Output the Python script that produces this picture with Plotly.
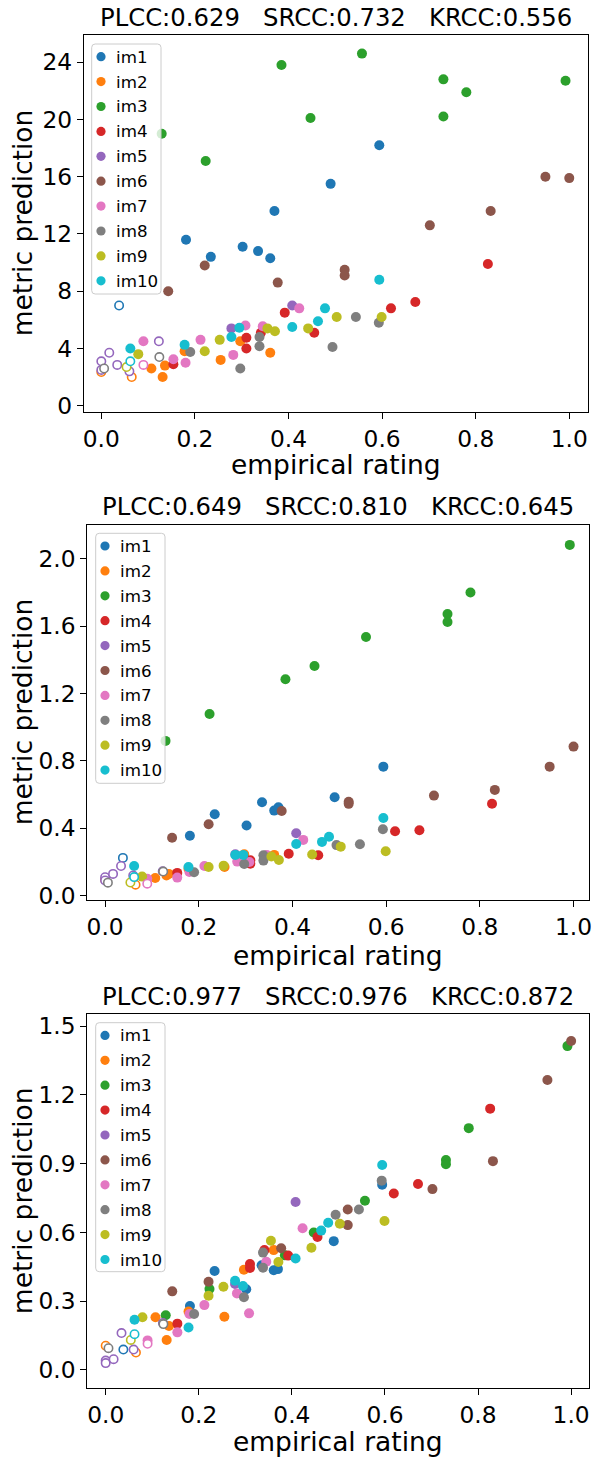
import plotly.graph_objects as go

# ---------------- data ----------------
series_names = ["im1", "im2", "im3", "im4", "im5", "im6", "im7", "im8", "im9", "im10"]

# empirical rating (shared by all three panels)
x_im1 = [0.038, 0.181, 0.234, 0.302, 0.335, 0.361, 0.370, 0.490, 0.594]
x_im2 = [0.0, 0.065, 0.107, 0.131, 0.136, 0.178, 0.255, 0.297, 0.361]
x_im3 = [0.129, 0.223, 0.385, 0.447, 0.557, 0.731, 0.731, 0.780, 0.992]
x_im4 = [0.154, 0.310, 0.310, 0.341, 0.392, 0.455, 0.619, 0.671, 0.826]
x_im5 = [0.0, 0.0, 0.017, 0.034, 0.060, 0.123, 0.278, 0.408]
x_im6 = [0.143, 0.221, 0.377, 0.520, 0.520, 0.702, 0.832, 0.949, 1.0]
x_im7 = [0.090, 0.090, 0.154, 0.180, 0.212, 0.282, 0.308, 0.345, 0.423]
x_im8 = [0.006, 0.124, 0.190, 0.297, 0.338, 0.338, 0.494, 0.544, 0.593]
x_im9 = [0.054, 0.079, 0.221, 0.253, 0.355, 0.371, 0.442, 0.503, 0.599]
x_im10 = [0.062, 0.062, 0.178, 0.278, 0.295, 0.408, 0.463, 0.478, 0.594]

# indices of points drawn as open circles
hollow_im1 = [0]
hollow_im2 = [0, 1]
hollow_im3 = []
hollow_im4 = []
hollow_im5 = [0, 1, 2, 3, 4, 5]
hollow_im6 = []
hollow_im7 = [0]
hollow_im8 = [0, 1]
hollow_im9 = [0]
hollow_im10 = [0]

# panel 1 metric prediction
p1_im1 = [7.0, 11.6, 10.4, 11.1, 10.8, 10.3, 13.6, 15.5, 18.2]
p1_im2 = [2.35, 2.0, 2.6, 2.0, 2.8, 3.8, 3.2, 4.5, 3.7]
p1_im3 = [19.0, 17.1, 23.8, 20.1, 24.6, 22.8, 20.2, 21.9, 22.7]
p1_im4 = [2.9, 4.75, 4.0, 5.1, 6.5, 5.1, 6.8, 7.25, 9.9]
p1_im5 = [3.1, 2.5, 3.7, 2.85, 2.4, 4.5, 5.4, 7.0]
p1_im6 = [8.0, 9.8, 8.6, 9.5, 9.1, 12.6, 13.6, 16.0, 15.9]
p1_im7 = [2.85, 4.5, 3.25, 3.0, 4.6, 3.55, 5.6, 5.55, 6.8]
p1_im8 = [2.6, 3.4, 3.75, 2.6, 4.8, 4.15, 4.1, 6.2, 5.8]
p1_im9 = [2.7, 3.6, 3.8, 4.6, 5.4, 5.2, 5.4, 6.2, 6.2]
p1_im10 = [3.1, 4.0, 4.25, 4.8, 5.45, 5.5, 5.9, 6.8, 8.8]

# panel 2 metric prediction
p2_im1 = [0.224, 0.356, 0.483, 0.416, 0.555, 0.505, 0.525, 0.584, 0.766]
p2_im2 = [0.095, 0.065, 0.105, 0.12, 0.129, 0.16, 0.17, 0.245, 0.242]
p2_im3 = [0.919, 1.079, 1.285, 1.364, 1.536, 1.673, 1.625, 1.80, 2.083]
p2_im4 = [0.135, 0.21, 0.19, 0.235, 0.249, 0.24, 0.382, 0.388, 0.546]
p2_im5 = [0.109, 0.09, 0.129, 0.176, 0.12, 0.145, 0.245, 0.37]
p2_im6 = [0.344, 0.424, 0.503, 0.558, 0.545, 0.594, 0.628, 0.766, 0.885]
p2_im7 = [0.071, 0.10, 0.107, 0.14, 0.176, 0.202, 0.2, 0.242, 0.331]
p2_im8 = [0.077, 0.143, 0.139, 0.188, 0.24, 0.208, 0.30, 0.305, 0.394]
p2_im9 = [0.078, 0.113, 0.17, 0.178, 0.232, 0.212, 0.244, 0.291, 0.264]
p2_im10 = [0.11, 0.176, 0.17, 0.242, 0.242, 0.307, 0.319, 0.35, 0.461]

# panel 3 metric prediction
p3_im1 = [0.089, 0.279, 0.432, 0.352, 0.457, 0.435, 0.440, 0.562, 0.808]
p3_im2 = [0.106, 0.076, 0.23, 0.131, 0.192, 0.255, 0.232, 0.437, 0.523]
p3_im3 = [0.239, 0.353, 0.50, 0.600, 0.738, 0.916, 0.898, 1.055, 1.413]
p3_im4 = [0.202, 0.462, 0.445, 0.523, 0.499, 0.58, 0.770, 0.811, 1.14]
p3_im5 = [0.041, 0.03, 0.047, 0.161, 0.089, 0.205, 0.375, 0.733]
p3_im6 = [0.343, 0.385, 0.531, 0.70, 0.632, 0.789, 0.911, 1.265, 1.435]
p3_im7 = [0.114, 0.129, 0.164, 0.244, 0.283, 0.334, 0.247, 0.472, 0.618]
p3_im8 = [0.095, 0.20, 0.244, 0.317, 0.512, 0.446, 0.677, 0.70, 0.826]
p3_im9 = [0.131, 0.23, 0.324, 0.363, 0.564, 0.471, 0.533, 0.638, 0.65]
p3_im10 = [0.156, 0.219, 0.185, 0.389, 0.366, 0.486, 0.608, 0.642, 0.894]

panel_titles = ["PLCC:0.629   SRCC:0.732   KRCC:0.556",
                "PLCC:0.649   SRCC:0.810   KRCC:0.645",
                "PLCC:0.977   SRCC:0.976   KRCC:0.872"]
x_label = "empirical rating"
y_label = "metric prediction"
x_ticks = [0.0, 0.2, 0.4, 0.6, 0.8, 1.0]
y_ticks_1 = [0, 4, 8, 12, 16, 20, 24]
y_ticks_2 = [0.0, 0.4, 0.8, 1.2, 1.6, 2.0]
y_ticks_3 = [0.0, 0.3, 0.6, 0.9, 1.2, 1.5]

# ---------------- assembly ----------------
X = [x_im1, x_im2, x_im3, x_im4, x_im5, x_im6, x_im7, x_im8, x_im9, x_im10]
HOLLOW = [hollow_im1, hollow_im2, hollow_im3, hollow_im4, hollow_im5,
          hollow_im6, hollow_im7, hollow_im8, hollow_im9, hollow_im10]
P = [
    [p1_im1, p1_im2, p1_im3, p1_im4, p1_im5, p1_im6, p1_im7, p1_im8, p1_im9, p1_im10],
    [p2_im1, p2_im2, p2_im3, p2_im4, p2_im5, p2_im6, p2_im7, p2_im8, p2_im9, p2_im10],
    [p3_im1, p3_im2, p3_im3, p3_im4, p3_im5, p3_im6, p3_im7, p3_im8, p3_im9, p3_im10],
]
Y_TICKS = [y_ticks_1, y_ticks_2, y_ticks_3]
Y_FMT = ["{:d}", "{:.1f}", "{:.1f}"]

COLORS = ['#1f77b4', '#ff7f0e', '#2ca02c', '#d62728', '#9467bd',
          '#8c564b', '#e377c2', '#7f7f7f', '#bcbd22', '#17becf']
FONT = "DejaVu Sans"
W, H = 592, 1459

# panel geometry in pixels: (left, right, top, bottom)
BOXES = [(84, 588, 35, 411.7), (87.3, 589, 524.7, 900), (87.3, 589.3, 1014, 1388.3)]
X_RANGES = [[-0.037, 1.04], [-0.038, 1.033], [-0.0395, 1.039]]
Y_RANGES = [[-0.42, 25.9], [-0.026, 2.203], [-0.08, 1.553]]
XLABEL_GAP = [53, 55, 53]
LEGEND_BOX = [(91.7, 44, 161, 294), (95.7, 533.3, 165, 783.3), (95.7, 1022.7, 165, 1271.7)]
LEG_STEP = 24.9


def px(x):
    return x / W


def py(y):
    return 1 - y / H


fig = go.Figure()
for p in range(3):
    ax = "" if p == 0 else str(p + 1)
    for s in range(10):
        xs = [v for i, v in enumerate(X[s]) if i not in HOLLOW[s]]
        ys = [v for i, v in enumerate(P[p][s]) if i not in HOLLOW[s]]
        fig.add_trace(go.Scatter(
            x=xs, y=ys, mode="markers", name=series_names[s], showlegend=False,
            xaxis="x" + ax, yaxis="y" + ax,
            marker=dict(size=10, color=COLORS[s], line=dict(width=0)),
        ))
    for s in range(10):
        if not HOLLOW[s]:
            continue
        xs = [X[s][i] for i in HOLLOW[s]]
        ys = [P[p][s][i] for i in HOLLOW[s]]
        fig.add_trace(go.Scatter(
            x=xs, y=ys, mode="markers", name=series_names[s], showlegend=False,
            xaxis="x" + ax, yaxis="y" + ax,
            marker=dict(size=8.4, color="white", line=dict(width=1.6, color=COLORS[s])),
        ))

layout = dict(
    width=W, height=H, autosize=False,
    margin=dict(l=0, r=0, t=0, b=0),
    paper_bgcolor="white", plot_bgcolor="white",
    font=dict(family=FONT, color="black"),
    showlegend=False,
    annotations=[], shapes=[],
)
for p in range(3):
    l, r, t, b = BOXES[p]
    ax = "" if p == 0 else str(p + 1)
    axis_common = dict(
        showline=True, mirror=True, linecolor="black", linewidth=1.3,
        ticks="outside", ticklen=6, tickwidth=1.3, tickcolor="black",
        showgrid=False, zeroline=False, automargin=False,
        ticklabeloverflow="allow",
        tickfont=dict(family=FONT, size=23.3, color="black"),
    )
    layout["xaxis" + ax] = dict(
        axis_common, domain=[px(l), px(r)], range=X_RANGES[p],
        anchor="y" + ax, tickvals=x_ticks,
        ticktext=["{:.1f}".format(v) for v in x_ticks],
    )
    layout["yaxis" + ax] = dict(
        axis_common, domain=[py(b), py(t)], range=Y_RANGES[p],
        anchor="x" + ax, tickvals=Y_TICKS[p],
        ticktext=[Y_FMT[p].format(v) for v in Y_TICKS[p]],
    )
    cx = px((l + r) / 2)
    layout["annotations"].append(dict(
        text=panel_titles[p], x=cx, y=py(t - 18), xref="paper", yref="paper",
        xanchor="center", yanchor="middle", showarrow=False,
        font=dict(family=FONT, size=24.3, color="black")))
    layout["annotations"].append(dict(
        text=x_label, x=cx, y=py(b + XLABEL_GAP[p]), xref="paper", yref="paper",
        xanchor="center", yanchor="middle", showarrow=False,
        font=dict(family=FONT, size=26.5, color="black")))
    layout["annotations"].append(dict(
        text=y_label, x=px(22), y=py((t + b) / 2), xref="paper", yref="paper",
        xanchor="center", yanchor="middle", showarrow=False, textangle=-90,
        font=dict(family=FONT, size=26.5, color="black")))

    # legend (upper left, framed)
    lx0, ly0, lx1, ly1 = LEGEND_BOX[p]
    rr = 3.5
    path = ("M {a},{b0} L {c},{b0} Q {x1},{b0} {x1},{d0} L {x1},{e} Q {x1},{y1} {c},{y1} "
            "L {a},{y1} Q {x0},{y1} {x0},{e} L {x0},{d0} Q {x0},{b0} {a},{b0} Z").format(
        a=px(lx0 + rr), c=px(lx1 - rr), x0=px(lx0), x1=px(lx1),
        b0=py(ly0), d0=py(ly0 + rr), e=py(ly1 - rr), y1=py(ly1))
    layout["shapes"].append(dict(
        type="path", path=path, xref="paper", yref="paper", layer="above",
        fillcolor="rgba(255,255,255,0.8)", line=dict(color="#cccccc", width=1)))
    for s in range(10):
        cy = ly0 + 12.7 + LEG_STEP * s
        mx = lx0 + 9.3
        layout["shapes"].append(dict(
            type="circle", xref="paper", yref="paper", layer="above",
            x0=px(mx - 4.6), x1=px(mx + 4.6), y0=py(cy + 4.6), y1=py(cy - 4.6),
            fillcolor=COLORS[s], line=dict(width=0)))
        layout["annotations"].append(dict(
            text=series_names[s], x=px(lx0 + 22.3), y=py(cy), xref="paper", yref="paper",
            xanchor="left", yanchor="middle", showarrow=False,
            font=dict(family=FONT, size=16.7, color="black")))

fig.update_layout(**layout)
fig.write_html(
    "out.html",
    config={"displayModeBar": False},
    post_script="document.body.style.margin='0';document.body.style.overflow='hidden';"
                "document.documentElement.style.overflow='hidden';",
)
